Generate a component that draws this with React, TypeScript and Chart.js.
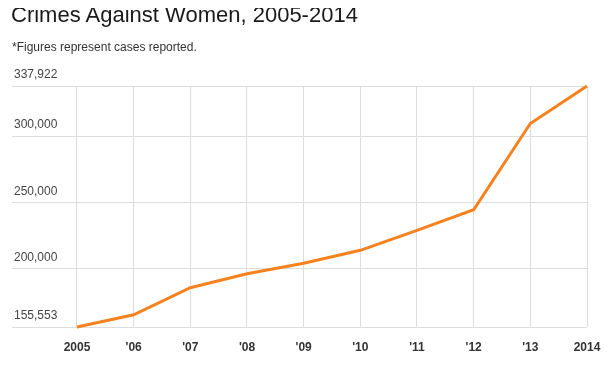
import React, { useEffect, useRef } from "react";
import { Chart, registerables } from "chart.js";

Chart.register(...registerables);

const years = [2005, 2006, 2007, 2008, 2009, 2010, 2011, 2012, 2013, 2014];
const yearLabels = ["2005", "'06", "'07", "'08", "'09", "'10", "'11", "'12", "'13", "2014"];
const cases = [155553, 164765, 185312, 195856, 203804, 213585, 228650, 244270, 309546, 337922];
const yTicks = [155553, 200000, 250000, 300000, 337922];

const FONT = 'Arial, "Liberation Sans", sans-serif';

export default function App() {
  const ref = useRef<HTMLCanvasElement | null>(null);

  useEffect(() => {
    if (!ref.current) return;
    const chart = new Chart(ref.current, {
      type: "line",
      data: {
        datasets: [
          {
            data: years.map((y, i) => ({ x: y, y: cases[i] })),
            borderColor: "#f5821f",
            borderWidth: 3,
            pointRadius: 0,
            tension: 0,
            clip: false as any,
          },
        ],
      },
      options: {
        animation: false,
        responsive: true,
        maintainAspectRatio: false,
        layout: { padding: { top: 78, right: 17, left: 0, bottom: 0 } },
        plugins: { legend: { display: false }, tooltip: { enabled: false }, title: { display: false } },
        scales: {
          x: {
            type: "linear",
            min: years[0] - 1.147,
            max: years[years.length - 1],
            border: { display: false },
            grid: { color: "#dddddd", drawTicks: false },
            afterBuildTicks: (s: any) => {
              s.ticks = years.map((v) => ({ value: v }));
            },
            afterFit: (s: any) => {
              s.height = 30;
              s.paddingLeft = 0;
              s.paddingRight = 0;
            },
            ticks: {
              padding: 13,
              autoSkip: false,
              maxRotation: 0,
              color: "#333333",
              font: { family: FONT, size: 12, weight: "bold" },
              callback: (v: any) => {
                const i = years.indexOf(Number(v));
                return i >= 0 ? yearLabels[i] : "";
              },
            },
          },
          y: {
            min: yTicks[0],
            max: yTicks[yTicks.length - 1],
            border: { display: false },
            grid: { color: "#dddddd", drawTicks: false },
            afterBuildTicks: (s: any) => {
              s.ticks = yTicks.map((v) => ({ value: v }));
            },
            afterFit: (s: any) => {
              s.paddingTop = 0;
              s.paddingBottom = 0;
            },
            ticks: {
              mirror: true,
              padding: 2,
              labelOffset: -11,
              color: "#444444",
              font: { family: FONT, size: 12 },
              callback: (v: any) => Number(v).toLocaleString("en-US"),
            },
          },
        },
      },
    });
    return () => chart.destroy();
  }, []);

  return (
    <div style={{ position: "relative", height: 349 }}>
      <div
        style={{
          position: "absolute",
          left: 3,
          top: -4,
          fontFamily: FONT,
          fontSize: 22,
          lineHeight: 1,
          color: "#1a1a1a",
          whiteSpace: "nowrap",
        }}
      >
        Crimes Against Women, 2005-2014
      </div>
      <div
        style={{
          position: "absolute",
          left: 4,
          top: 33,
          fontFamily: FONT,
          fontSize: 12,
          lineHeight: 1,
          color: "#333333",
          whiteSpace: "nowrap",
        }}
      >
        *Figures represent cases reported.
      </div>
      <canvas ref={ref} />
    </div>
  );
}
